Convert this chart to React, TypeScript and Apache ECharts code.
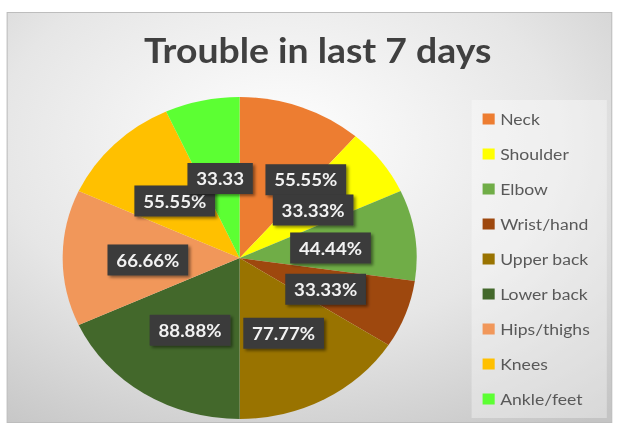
import React, { useEffect, useRef } from "react";
import * as echarts from "echarts";

// ---- data ----
const titleText = "Trouble in last 7 days";
const categories = [
  "Neck",
  "Shoulder",
  "Elbow",
  "Wrist/hand",
  "Upper back",
  "Lower back",
  "Hips/thighs",
  "Knees",
  "Ankle/feet",
];
const values = [55.55, 33.33, 44.44, 33.33, 77.77, 88.88, 66.66, 55.55, 33.33];
const labelSuffixes = ["%", "%", "%", "%", "%", "%", "%", "%", ""];
const colors = [
  "#ED7D31",
  "#FFFF00",
  "#70AD47",
  "#9E480E",
  "#997300",
  "#43682B",
  "#F1975A",
  "#FFC000",
  "#5CFF33",
];

// The reference is horizontally stretched; draw in a narrower space and stretch it.
const BASE_W = 564;
const BASE_H = 425;
const STRETCH_X = 620 / BASE_W;

export default function App() {
  const ref = useRef<HTMLDivElement>(null);

  useEffect(() => {
    if (!ref.current) return;
    const chart = echarts.init(ref.current, undefined, { renderer: "svg" });

    const data = categories.map((name, i) => ({
      name,
      value: values[i],
      itemStyle: { color: colors[i] },
      label: i === 0 ? { offset: [31, 0] } : undefined,
    }));

    chart.setOption({
      animation: false,
      graphic: [
        {
          type: "rect",
          z: -10,
          shape: { x: 6.5, y: 12.5, width: 550, height: 410 },
          style: {
            fill: new echarts.graphic.RadialGradient(0.45, 0.32, 0.85, [
              { offset: 0, color: "#ffffff" },
              { offset: 0.55, color: "#e6e6e6" },
              { offset: 1, color: "#c4c4c4" },
            ]),
            stroke: "#bdbdbd",
            lineWidth: 1,
          },
        },
        {
          type: "rect",
          z: -9,
          shape: { x: 429, y: 100, width: 123, height: 318 },
          style: { fill: "rgba(255,255,255,0.35)" },
        },
      ],
      title: {
        text: titleText,
        left: 284,
        textAlign: "center",
        top: 28,
        textStyle: {
          fontFamily: "Lato",
          fontWeight: "bold",
          fontSize: 34,
          color: "#404040",
        },
      },
      legend: {
        orient: "vertical",
        left: 439,
        top: 109,
        padding: 0,
        itemWidth: 11,
        itemHeight: 11,
        itemGap: 15,
        icon: "rect",
        selectedMode: false,
        data: categories,
        textStyle: {
          fontFamily: "Lato",
          fontSize: 16,
          lineHeight: 20,
          color: "#595959",
        },
      },
      series: [
        {
          type: "pie",
          center: [218, 258],
          radius: 161,
          startAngle: 90,
          clockwise: true,
          avoidLabelOverlap: false,
          labelLayout: { hideOverlap: false },
          itemStyle: { borderWidth: 0 },
          emphasis: { disabled: true },
          labelLine: { show: false },
          label: {
            show: true,
            position: "inside",
            offset: [0, 2],
            formatter: (p: any) =>
              values[p.dataIndex].toFixed(2) + labelSuffixes[p.dataIndex],
            fontFamily: "Lato",
            fontWeight: "bold",
            fontSize: 17,
            lineHeight: 19,
            color: "#f2f2f2",
            backgroundColor: "#3a3a3a",
            padding: [6, 8],
            shadowBlur: 3,
            shadowColor: "rgba(0,0,0,0.45)",
            shadowOffsetX: 2,
            shadowOffsetY: 2,
          },
          data,
        },
      ],
    });

    return () => chart.dispose();
  }, []);

  return (
    <div
      ref={ref}
      style={{
        position: "fixed",
        left: 0,
        top: 0,
        width: BASE_W,
        height: BASE_H,
        transform: `scaleX(${STRETCH_X})`,
        transformOrigin: "0 0",
      }}
    />
  );
}
